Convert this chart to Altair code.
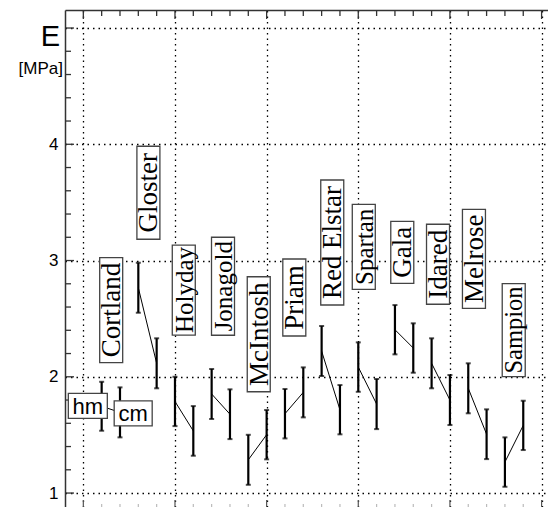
import altair as alt
import pandas as pd

# ---------------- data ----------------
cultivars = ["Cortland", "Gloster", "Holyday", "Jonagold", "McIntosh", "Priam",
             "Red Elstar", "Spartan", "Gala", "Idared", "Melrose", "Sampion"]
hm_pos = [1, 3, 5, 7, 9, 11, 13, 15, 17, 19, 21, 23]
cm_pos = [2, 4, 6, 8, 10, 12, 14, 16, 18, 20, 22, 24]
hm_low = [1.536, 2.551, 1.576, 1.637, 1.071, 1.470, 2.006, 1.871, 2.193, 1.901, 1.686, 1.054]
hm_high = [1.957, 2.981, 2.000, 2.067, 1.501, 1.895, 2.436, 2.296, 2.617, 2.331, 2.116, 1.479]
cm_low = [1.479, 1.901, 1.321, 1.464, 1.290, 1.651, 1.505, 1.550, 2.035, 1.585, 1.292, 1.370]
cm_high = [1.909, 2.331, 1.748, 1.892, 1.714, 2.081, 1.929, 1.981, 2.460, 2.015, 1.720, 1.794]

# annotation anchors (data coordinates)
label_x = [1.52, 3.55, 5.48, 7.62, 9.57, 11.51, 13.58, 15.30, 17.40, 19.35, 21.31, 23.48]
label_y = [2.574, 3.583, 2.746, 2.779, 2.366, 2.682, 3.155, 3.118, 3.071, 2.968, 3.015, 2.402]
method_names = ["hm", "cm"]
method_x = [0.245, 2.72]
method_y = [1.750, 1.686]

# ---------------- layout / style ----------------
W, H = 483, 497
XMIN, XMAX = -1, 25.35
YMIN, YMAX = 0.88, 5.155
PX_X = W / (XMAX - XMIN)
PX_Y = H / (YMAX - YMIN)
label_len = [105, 93, 90, 98, 115, 77, 125, 85, 62, 80, 99, 93]
label_font = [27, 27, 25, 25, 27, 27, 27, 25, 27, 27, 27, 24.5]
LABEL_THICK = 23
method_w = [39, 38]
method_h = 25

xs = alt.Scale(domain=[XMIN, XMAX], nice=False, zero=False)
ys = alt.Scale(domain=[YMIN, YMAX], nice=False, zero=False)

y_major = [1, 2, 3, 4, 5]
y_minor = [round(1 + 0.2 * k, 1) for k in range(1, 21) if k % 5 != 0]
x_major = [0, 5, 10, 15, 20, 25]
x_minor = [k for k in range(0, 26) if k % 5 != 0]

AX_X = alt.Axis(orient="top", values=x_major, grid=True, labels=False, ticks=False,
                domain=True, domainColor="#333", domainWidth=1.5, title=None,
                gridColor="black", gridDash=[1.5, 4], gridWidth=1.3, gridOpacity=1)
AX_Y = alt.Axis(orient="left", values=y_major, grid=True, ticks=False, domain=True,
                domainColor="#333", domainWidth=1.5, title=None,
                labelExpr="datum.value == 5 ? '' : datum.label",
                labelFont="Liberation Sans", labelFontSize=17, labelColor="black",
                labelPadding=7,
                gridColor="black", gridDash=[1.5, 4], gridWidth=1.3, gridOpacity=1)

# ---------------- tables ----------------
bars = pd.DataFrame({
    "x": hm_pos + cm_pos,
    "low": hm_low + cm_low,
    "high": hm_high + cm_high,
})
caps = pd.DataFrame({
    "x": bars["x"].tolist() * 2,
    "v": bars["low"].tolist() + bars["high"].tolist(),
})
links = pd.DataFrame({
    "x1": hm_pos,
    "x2": cm_pos,
    "y1": [(a + b) / 2 for a, b in zip(hm_low, hm_high)],
    "y2": [(a + b) / 2 for a, b in zip(cm_low, cm_high)],
})
labels = pd.DataFrame({"name": cultivars, "cx": label_x, "cy": label_y, "fs": label_font})
labels["x0"] = labels["cx"] - LABEL_THICK / 2 / PX_X
labels["x1"] = labels["cx"] + LABEL_THICK / 2 / PX_X
labels["y0"] = labels["cy"] - pd.Series(label_len) / 2 / PX_Y
labels["y1"] = labels["cy"] + pd.Series(label_len) / 2 / PX_Y

methods = pd.DataFrame({"name": method_names, "cx": method_x, "cy": method_y})
methods["x0"] = methods["cx"] - pd.Series(method_w) / 2 / PX_X
methods["x1"] = methods["cx"] + pd.Series(method_w) / 2 / PX_X
methods["y0"] = methods["cy"] - method_h / 2 / PX_Y
methods["y1"] = methods["cy"] + method_h / 2 / PX_Y


def X(field):
    return alt.X(field, scale=xs, axis=AX_X)


def Y(field):
    return alt.Y(field, scale=ys, axis=AX_Y)


# ---------------- layers ----------------
links_layer = alt.Chart(links).mark_rule(color="black", strokeWidth=1).encode(
    x=X("x1:Q"), x2="x2:Q", y=Y("y1:Q"), y2="y2:Q")

errbars = alt.Chart(bars).mark_rule(color="black", strokeWidth=2.2).encode(
    x=X("x:Q"), y=Y("low:Q"), y2="high:Q")

errcaps = alt.Chart(caps).mark_tick(color="black", orient="horizontal",
                                    size=5, thickness=2).encode(
    x=X("x:Q"), y=Y("v:Q"))


def left_ticks(vals, length, color="#333"):
    return alt.Chart(pd.DataFrame({"v": vals})).mark_rule(
        color=color, strokeWidth=1.3).encode(
        y=Y("v:Q"), x=alt.value(0), x2=alt.value(length))


def top_ticks(vals, length, color="#333"):
    return alt.Chart(pd.DataFrame({"v": vals})).mark_rule(
        color=color, strokeWidth=1.3).encode(
        x=X("v:Q"), y=alt.value(0), y2=alt.value(length))


def bottom_ticks(vals, length, color):
    return alt.Chart(pd.DataFrame({"v": vals})).mark_rule(
        color=color, strokeWidth=1.2).encode(
        x=X("v:Q"), y=alt.value(H), y2=alt.value(H - length))


label_boxes = alt.Chart(labels).mark_rect(
    fill="white", stroke="#444", strokeWidth=1.3).encode(
    x=X("x0:Q"), x2="x1:Q", y=Y("y0:Q"), y2="y1:Q")

label_text = alt.Chart(labels).mark_text(
    angle=270, font="Liberation Serif", color="black",
    align="center", baseline="middle", dy=1).encode(
    x=X("cx:Q"), y=Y("cy:Q"), text="name:N",
    size=alt.Size("fs:Q", scale=None, legend=None))

method_boxes = alt.Chart(methods).mark_rect(
    fill="white", stroke="#444", strokeWidth=1.3).encode(
    x=X("x0:Q"), x2="x1:Q", y=Y("y0:Q"), y2="y1:Q")

method_text = alt.Chart(methods).mark_text(
    font="Liberation Sans", fontSize=22, color="black",
    align="center", baseline="middle", dy=1).encode(
    x=X("cx:Q"), y=Y("cy:Q"), text="name:N")

e_text = alt.Chart(pd.DataFrame({"t": ["E"]})).mark_text(
    font="Liberation Sans", fontSize=29, color="black",
    align="right", baseline="middle").encode(
    x=alt.value(-5), y=alt.value(27), text="t:N")

unit_text = alt.Chart(pd.DataFrame({"t": ["[MPa]"]})).mark_text(
    font="Liberation Sans", fontSize=17, color="black",
    align="right", baseline="middle").encode(
    x=alt.value(-2), y=alt.value(59), text="t:N")

chart = alt.layer(
    links_layer,
    errbars,
    errcaps,
    left_ticks(y_major, 9),
    left_ticks(y_minor, 6),
    top_ticks(x_major, 9),
    top_ticks(x_minor, 6),
    bottom_ticks(x_major, 7, "#555"),
    bottom_ticks(x_minor, 3, "#bbb"),
    label_boxes,
    label_text,
    method_boxes,
    method_text,
    e_text,
    unit_text,
).properties(
    width=W, height=H,
    autosize=alt.AutoSizeParams(type="none"),
    padding={"left": 65, "top": 10, "right": 0, "bottom": 0},
).configure_view(stroke=None)

chart.save("out.html", embed_options={"renderer": "svg", "actions": False})
